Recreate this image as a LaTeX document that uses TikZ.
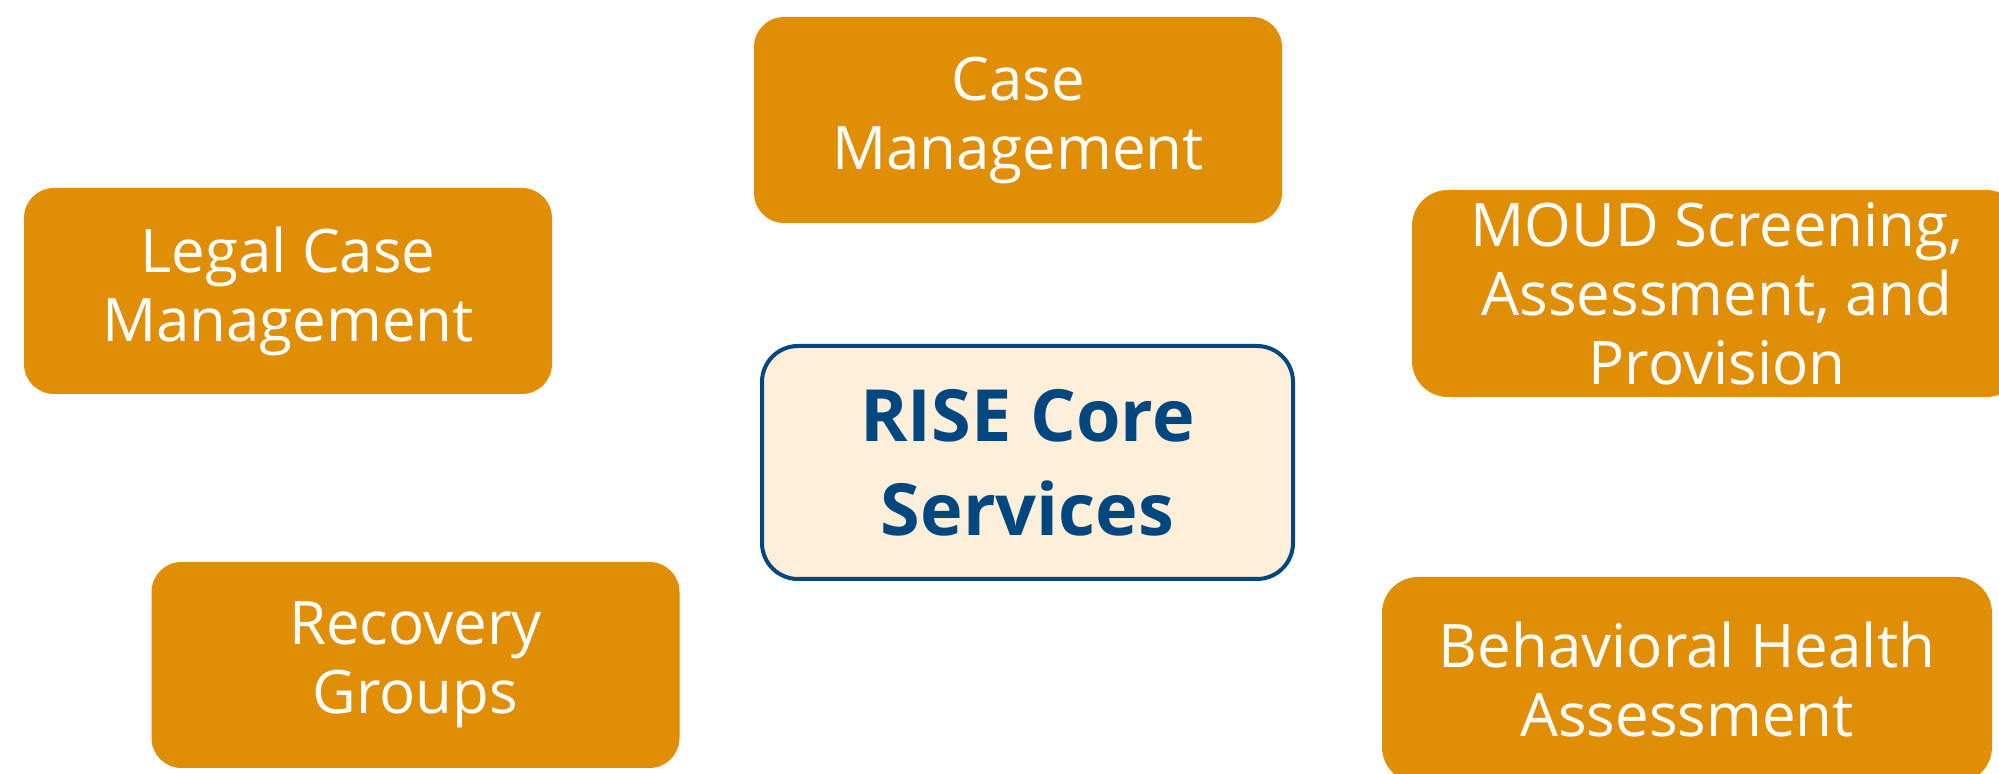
\documentclass[tikz,border=0pt]{standalone}
\usepackage{fontspec}
\setmainfont{Open Sans}
\definecolor{boxorange}{RGB}{224,142,6}
\definecolor{corefill}{RGB}{253,239,217}
\definecolor{coreblue}{RGB}{0,70,127}
\begin{document}
\begin{tikzpicture}[x=0.5pt,y=-0.5pt,
  obox/.style={rectangle, rounded corners=15pt, fill=boxorange, text=white,
    align=center, inner sep=0pt, minimum width=264pt, minimum height=103pt,
    font=\fontsize{30}{34.5}\selectfont},
  wbox/.style={obox, rounded corners=18pt, minimum width=305pt},
  corebox/.style={rectangle, rounded corners=18pt, fill=corefill, draw=coreblue,
    line width=2pt, text=coreblue, align=center, inner sep=0pt,
    minimum width=265.5pt, minimum height=116.5pt,
    font=\fontsize{36}{47}\selectfont\bfseries}]
\useasboundingbox (0,0) rectangle (1999,774);
\clip (0,0) rectangle (1999,774);
\node[obox] (cm) at (1018,120) {Case\\Management};
\node[obox] (legal) at (288,291) {Legal Case\\Management};
\node[obox] (recovery) at (415.5,665) {Recovery\\Groups};
\node[wbox, minimum height=103.5pt] (moud) at (1717,293.5) {MOUD Screening,\\Assessment, and\\Provision};
\node[wbox] (bha) at (1687,680) {Behavioral Health\\Assessment};
\node[corebox] (core) at (1027.5,462.5) {RISE Core\\Services};
\end{tikzpicture}
\end{document}
